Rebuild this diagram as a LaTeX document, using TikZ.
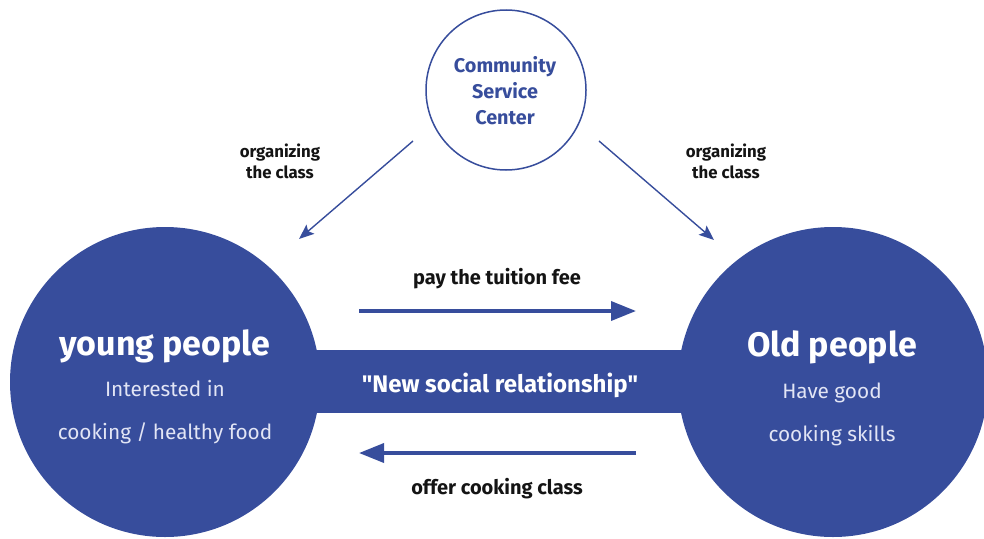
\documentclass[tikz,border=0pt]{standalone}
\usepackage{fontspec}
\setmainfont{Fira Sans}
\usetikzlibrary{arrows.meta}
\definecolor{navy}{RGB}{55,77,156}
\definecolor{paletext}{RGB}{226,229,245}
\definecolor{ink}{RGB}{20,20,20}
\tikzset{
  bigcircle/.style={circle, fill=navy, draw=none, minimum size=310pt, inner sep=0pt},
  hubcircle/.style={circle, draw=navy, line width=1.5pt, fill=white, minimum size=160pt, inner sep=0pt},
  band/.style={fill=navy, draw=none, minimum width=400pt, minimum height=63pt, inner sep=0pt},
  title/.style={text=white, font=\bfseries\fontsize{34}{34}\selectfont, anchor=base, inner sep=0pt},
  subtext/.style={text=paletext, font=\fontsize{20.8}{21}\selectfont, anchor=base, inner sep=0pt},
  hubtext/.style={text=navy, font=\bfseries\fontsize{19.8}{20}\selectfont, anchor=base, inner sep=0pt},
  label/.style={text=ink, font=\bfseries\fontsize{16.8}{17}\selectfont, anchor=base, inner sep=0pt},
  flowlabel/.style={text=ink, font=\bfseries\fontsize{20}{20}\selectfont, anchor=base, inner sep=0pt},
  bandtext/.style={text=white, font=\bfseries\fontsize{24}{24}\selectfont, anchor=base, inner sep=0pt},
  flow/.style={draw=navy, line width=3.6pt, -{Triangle[length=25pt,width=19pt]}},
  organize/.style={draw=navy, line width=1.4pt, -{Stealth[length=15pt,width=12pt,inset=3pt]}},
}
\begin{document}
\begin{tikzpicture}[x=1pt,y=-1pt]
  \useasboundingbox (0,0) rectangle (984,538);

  % relationship band behind the two circles
  \node[band] (rel) at (500,381.5) {};
  \node[bigcircle] (young) at (165,382) {};
  \node[bigcircle] (old) at (833,382) {};
  \node[hubcircle] (hub) at (506,90) {};

  % hub caption
  \node[hubtext] (hub1) at (505,72) {Community};
  \node[hubtext] (hub2) at (505,98) {Service};
  \node[hubtext] (hub3) at (505,124) {Center};

  % circle captions
  \node[title] (ytitle) at (165,355) {young people};
  \node[subtext] (ysub1) at (165,396) {Interested in};
  \node[subtext] (ysub2) at (165,439) {cooking / healthy food};
  \node[title] (otitle) at (832,356) {Old people};
  \node[subtext] (osub1) at (832,398) {Have good};
  \node[subtext] (osub2) at (832,441) {cooking skills};

  \node[bandtext] (reltext) at (500,392) {\textquotedbl New social relationship\textquotedbl};

  % organizing arrows from the hub
  \coordinate (hl) at (413,141);
  \coordinate (yl) at (299,239);
  \coordinate (hr) at (599,141);
  \coordinate (or) at (714,240);
  \draw[organize] (hl) -- (yl);
  \draw[organize] (hr) -- (or);
  \node[label] (org1) at (280,157) {organizing};
  \node[label] (org2) at (280,178) {the class};
  \node[label] (org3) at (726,157) {organizing};
  \node[label] (org4) at (726,178) {the class};

  % exchange arrows between the circles
  \coordinate (payA) at (359,311);
  \coordinate (payB) at (636,311);
  \coordinate (offA) at (636,453);
  \coordinate (offB) at (359,453);
  \draw[flow] (payA) -- (payB);
  \draw[flow] (offA) -- (offB);
  \node[flowlabel] (pay) at (497,284) {pay the tuition fee};
  \node[flowlabel] (offer) at (497,494) {offer cooking class};
\end{tikzpicture}
\end{document}
